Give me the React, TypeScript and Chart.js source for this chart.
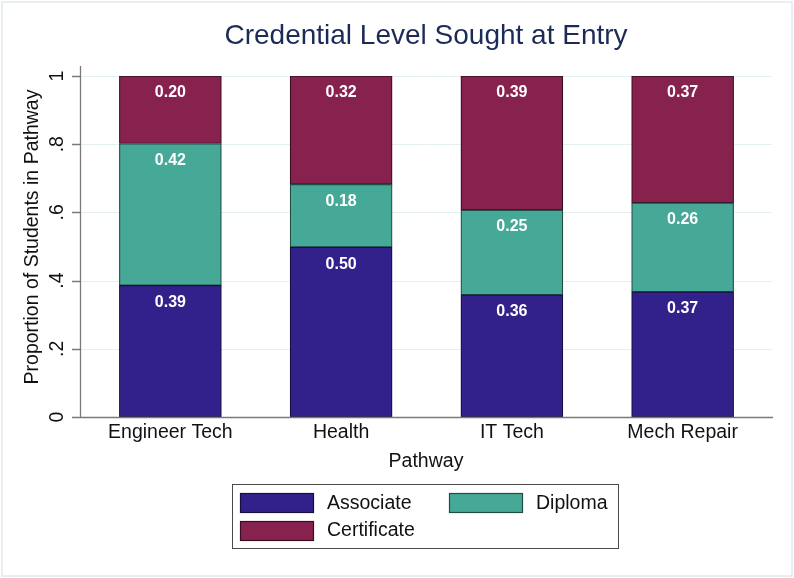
import React, { useEffect, useRef } from "react";
import { Chart, registerables } from "chart.js";

Chart.register(...registerables);

const categories = ["Engineer Tech", "Health", "IT Tech", "Mech Repair"];
const seriesNames = ["Associate", "Diploma", "Certificate"];
const associate = [0.386, 0.498, 0.358, 0.367];
const diploma = [0.416, 0.184, 0.249, 0.261];
const certificate = [0.198, 0.318, 0.393, 0.372];
const yTicks = [0, 0.2, 0.4, 0.6, 0.8, 1];
const yTickLabels = ["0", ".2", ".4", ".6", ".8", "1"];
const titleText = "Credential Level Sought at Entry";
const xTitleText = "Pathway";
const yTitleText = "Proportion of Students in Pathway";

const fills = ["#33218B", "#46A896", "#87224F"];
const edges = ["#17103f", "#1f4c43", "#3a0e22"];
const FONT = '"Liberation Sans", Arial, sans-serif';

const decor = {
  id: "decor",
  beforeDraw(chart: any) {
    const ctx = chart.ctx;
    const W = chart.width;
    const H = chart.height;
    const y = chart.scales.y;
    ctx.save();
    ctx.fillStyle = "#ffffff";
    ctx.fillRect(0, 0, W, H);
    ctx.strokeStyle = "#e1eaed";
    ctx.lineWidth = 1.5;
    ctx.strokeRect(2, 2, W - 4, H - 4);

    // title
    ctx.fillStyle = "#1c2a58";
    ctx.font = `28px ${FONT}`;
    ctx.textAlign = "center";
    ctx.textBaseline = "middle";
    ctx.fillText(titleText, 426, 36);

    // gridlines
    ctx.strokeStyle = "#e6eff1";
    ctx.lineWidth = 1;
    yTicks.forEach((v) => {
      const py = Math.round(y.getPixelForValue(v)) + 0.5;
      ctx.beginPath();
      ctx.moveTo(81, py);
      ctx.lineTo(772, py);
      ctx.stroke();
    });

    // y title
    ctx.fillStyle = "#111111";
    ctx.font = `19.5px ${FONT}`;
    ctx.save();
    ctx.translate(38, 237);
    ctx.rotate(-Math.PI / 2);
    ctx.textAlign = "center";
    ctx.textBaseline = "alphabetic";
    ctx.fillText(yTitleText, 0, 0);
    ctx.restore();

    // y tick labels
    yTicks.forEach((v, i) => {
      const py = y.getPixelForValue(v);
      ctx.save();
      ctx.translate(63, py);
      ctx.rotate(-Math.PI / 2);
      ctx.textAlign = "center";
      ctx.textBaseline = "alphabetic";
      ctx.fillText(yTickLabels[i], 0, 0);
      ctx.restore();
    });

    // x title
    ctx.textAlign = "center";
    ctx.textBaseline = "middle";
    ctx.fillText(xTitleText, 426, 462);

    // legend
    ctx.strokeStyle = "#4a4a4a";
    ctx.lineWidth = 1;
    ctx.strokeRect(232.5, 484.5, 386, 64);
    const items = [
      { sx: 240, sy: 493, tx: 327, ty: 504 },
      { sx: 449, sy: 493, tx: 536, ty: 504 },
      { sx: 240, sy: 521, tx: 327, ty: 531 },
    ];
    items.forEach((it, i) => {
      ctx.fillStyle = fills[i];
      ctx.fillRect(it.sx, it.sy, 74, 20);
      ctx.strokeStyle = edges[i];
      ctx.lineWidth = 1.2;
      ctx.strokeRect(it.sx + 0.5, it.sy + 0.5, 73, 19);
      ctx.fillStyle = "#111111";
      ctx.textAlign = "left";
      ctx.textBaseline = "middle";
      ctx.fillText(seriesNames[i], it.tx, it.ty);
    });
    ctx.restore();
  },
  afterDatasetsDraw(chart: any) {
    const ctx = chart.ctx;
    const y = chart.scales.y;
    ctx.save();
    // axes
    ctx.strokeStyle = "#7a7a7a";
    ctx.lineWidth = 1.3;
    const y0 = Math.round(y.getPixelForValue(0)) + 0.5;
    const y1 = y.getPixelForValue(1);
    ctx.beginPath();
    ctx.moveTo(80.5, y1 - 10);
    ctx.lineTo(80.5, y0);
    ctx.moveTo(72, y0);
    ctx.lineTo(773, y0);
    yTicks.forEach((v) => {
      const py = Math.round(y.getPixelForValue(v)) + 0.5;
      ctx.moveTo(72, py);
      ctx.lineTo(81, py);
    });
    ctx.stroke();

    // value labels
    ctx.fillStyle = "#ffffff";
    ctx.font = `bold 16px ${FONT}`;
    ctx.textAlign = "center";
    ctx.textBaseline = "middle";
    chart.data.datasets.forEach((ds: any, di: number) => {
      const meta = chart.getDatasetMeta(di);
      meta.data.forEach((bar: any, i: number) => {
        const v = ds.data[i] as number;
        ctx.fillText(v.toFixed(2), bar.x, bar.y + 17);
      });
    });
    ctx.restore();
  },
};

export default function App() {
  const ref = useRef<HTMLCanvasElement | null>(null);
  useEffect(() => {
    if (!ref.current) return;
    const series = [associate, diploma, certificate];
    const chart = new Chart(ref.current, {
      type: "bar",
      data: {
        labels: categories,
        datasets: series.map((d, i) => ({
          label: seriesNames[i],
          data: d,
          backgroundColor: fills[i],
          borderColor: edges[i],
          borderWidth: 1.2,
          borderSkipped: false,
          barThickness: 102,
        })),
      },
      options: {
        animation: false,
        responsive: false,
        devicePixelRatio: 1,
        layout: { padding: { left: 85, right: 26, top: 76, bottom: 121 } },
        plugins: {
          legend: { display: false },
          title: { display: false },
          tooltip: { enabled: false },
        },
        scales: {
          x: {
            stacked: true,
            grid: { display: false, drawTicks: false },
            border: { display: false },
            ticks: {
              color: "#111111",
              font: { family: FONT, size: 19.5 },
              padding: 4,
              maxRotation: 0,
              autoSkip: false,
            },
            afterFit: (s: any) => {
              s.height = 40;
            },
          },
          y: {
            stacked: true,
            min: 0,
            max: 1,
            grid: { display: false, drawTicks: false },
            border: { display: false },
            ticks: { display: false },
            afterFit: (s: any) => {
              s.width = 0;
            },
          },
        },
      },
      plugins: [decor],
    });
    return () => chart.destroy();
  }, []);
  return (
    <canvas
      ref={ref}
      width={794}
      height={578}
      style={{ position: "fixed", left: 0, top: 0, width: 794, height: 578 }}
    />
  );
}
